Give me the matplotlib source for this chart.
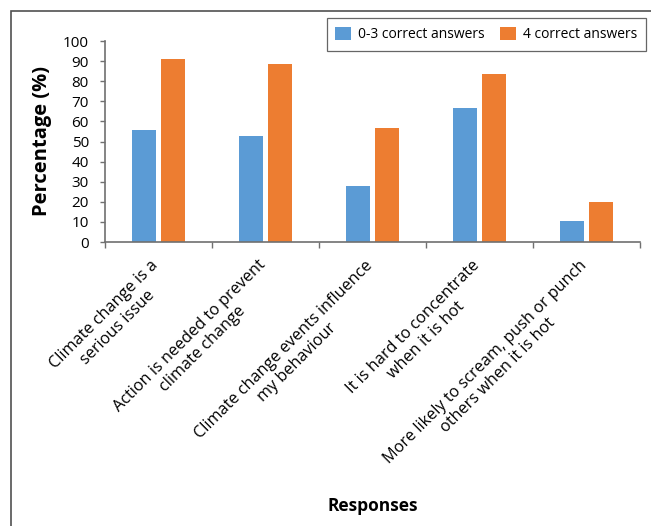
import numpy as np
import matplotlib.pyplot as plt
from matplotlib.patches import Rectangle
from matplotlib.transforms import ScaledTranslation

plt.rcParams['font.family'] = ['Open Sans', 'DejaVu Sans']

# Données
categories = ["Climate change is a\nserious issue",
              "Action is needed to prevent\nclimate change",
              "Climate change events influence\nmy behaviour",
              "It is hard to concentrate\nwhen it is hot",
              "More likely to scream, push or punch\nothers when it is hot"]
low_scores = [55.7, 52.8, 27.9, 66.6, 10.3]
high_scores = [91.0, 88.4, 56.7, 83.7, 19.8]
series_names = ["0-3 correct answers", "4 correct answers"]

W, H = 651, 526
fig = plt.figure(figsize=(W / 100, H / 100), dpi=100)
ax = fig.add_axes([105 / W, 1 - 242 / H, 535 / W, 201 / H])

x = np.arange(len(categories))
w = 0.224
ax.bar(x - 0.14, low_scores, w, color="#5B9BD5", label=series_names[0])
ax.bar(x + 0.14, high_scores, w, color="#ED7D31", label=series_names[1])

ax.set_xlim(-0.5, len(categories) - 0.5)
ax.set_ylim(0, 100)
ax.set_yticks(range(0, 101, 10))
ax.tick_params(axis='y', labelsize=11, length=3.6, width=1, color="#707070", pad=8)

# ticks entre les catégories, labels au centre
ax.set_xticks(np.arange(-0.5, len(categories), 1))
ax.set_xticklabels([])
ax.set_xticks(x, minor=True)
ax.set_xticklabels(categories, minor=True, rotation=45, ha='right',
                   rotation_mode='anchor', fontsize=11.7, multialignment='center')
ax.tick_params(axis='x', which='major', length=4.3, width=1, color="#707070")
ax.tick_params(axis='x', which='minor', length=0, pad=11)
shift = ScaledTranslation(-8 / 100, 0, fig.dpi_scale_trans)
for lab in ax.get_xticklabels(minor=True):
    lab.set_transform(lab.get_transform() + shift)

for s in ['top', 'right']:
    ax.spines[s].set_visible(False)
for s in ['left', 'bottom']:
    ax.spines[s].set_color("#707070")
    ax.spines[s].set_linewidth(1.2)

ax.set_ylabel("Percentage (%)", fontsize=14.5, fontweight='bold')
ax.yaxis.set_label_coords(-0.0995, 0.5)
fig.text(372.5 / W, 1 - 515 / H, "Responses", fontsize=12.5, fontweight='bold',
         ha='center', va='bottom')

leg = fig.legend(loc='upper right', bbox_to_anchor=(646 / W, 1 - 18 / H),
                 borderaxespad=0, ncol=2, fontsize=10, frameon=True,
                 fancybox=False, handlelength=1.15, handleheight=1.1,
                 columnspacing=1.1, handletextpad=0.5, borderpad=0.62)
leg.get_frame().set_edgecolor("#404040")
leg.get_frame().set_linewidth(0.9)

# cadre extérieur
fig.patches.append(Rectangle((11 / W, -0.1), 1.1, 1.1 - 11 / H,
                             transform=fig.transFigure, fill=False,
                             edgecolor="#505050", linewidth=1.2))

plt.savefig("out.png", dpi=100)
